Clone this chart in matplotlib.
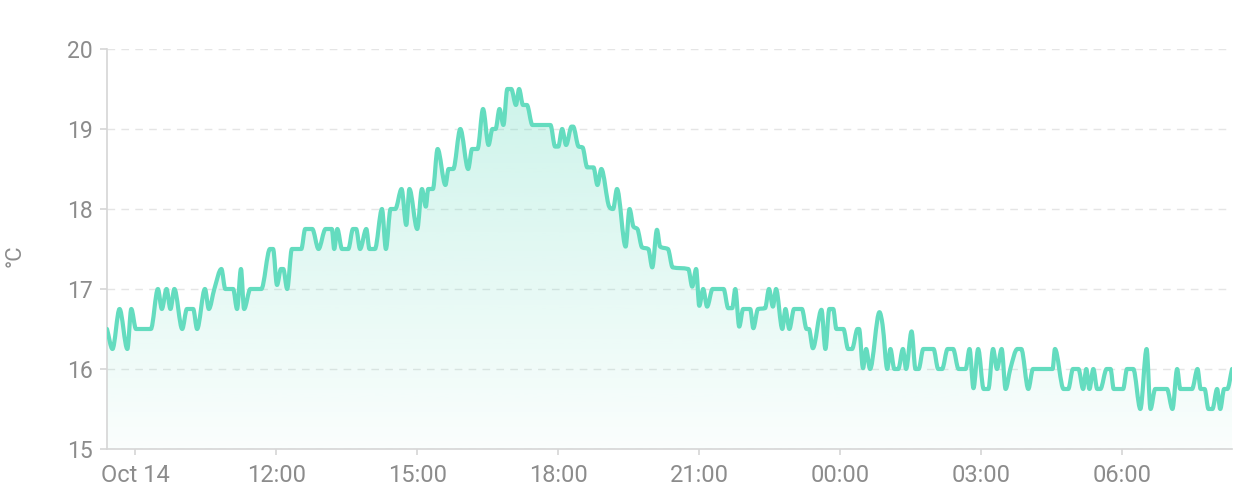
import matplotlib
matplotlib.use("Agg")
import matplotlib.pyplot as plt
import matplotlib.dates as mdates
from matplotlib.path import Path
from matplotlib.patches import PathPatch
import numpy as np
import pandas as pd

# minutes after 09:00 on Oct 14
minutes = [
    -36, -29, -20, -10, -5, 1, 20, 29, 34, 40, 45, 50, 60, 66, 74, 79, 89, 94,
    101, 110, 115, 125, 130, 135, 139, 147, 161, 172, 176, 181, 186, 189, 194,
    200, 212, 217, 226, 234, 243, 251, 254, 258, 264, 272, 278, 282, 287, 295,
    299, 306, 315, 320, 326, 332, 340, 346, 350, 360, 366, 371, 374, 380, 386,
    396, 400, 406, 415, 425, 430, 437, 444, 451, 456, 460, 465, 470, 475, 480,
    486, 490, 495, 500, 507, 530, 536, 540, 545, 550, 557, 559, 566, 571, 577,
    585, 590, 595, 605, 610, 615, 626, 631, 636, 641, 647, 655, 660, 666, 670,
    680, 686, 706, 711, 716, 720, 725, 730, 737, 751, 757, 762, 766, 771, 776,
    785, 789, 795, 804, 809, 814, 818, 826, 830, 835, 841, 851, 857, 860, 865,
    876, 881, 886, 891, 895, 904, 910, 915, 922, 924, 929, 933, 938, 950, 954,
    960, 964, 969, 974, 980, 984, 991, 996, 1000, 1006, 1019, 1025, 1030, 1037,
    1044, 1051, 1060, 1065, 1070, 1076, 1083, 1089, 1095, 1100, 1106, 1111,
    1117, 1126, 1131, 1140, 1146, 1171, 1174, 1185, 1191, 1197, 1204, 1210,
    1214, 1218, 1223, 1228, 1232, 1240, 1245, 1249, 1261, 1266, 1274, 1283,
    1291, 1296, 1302, 1317, 1324, 1330, 1334, 1349, 1356, 1360, 1365, 1370,
    1375, 1381, 1385, 1390, 1394, 1400,
]
temps = [
    16.5, 16.25, 16.75, 16.25, 16.75, 16.5, 16.5, 17.0, 16.75, 17.0, 16.75, 17.0,
    16.5, 16.75, 16.75, 16.5, 17.0, 16.75, 17.0, 17.25, 17.0, 17.0, 16.75, 17.25,
    16.75, 17.0, 17.0, 17.5, 17.5, 17.05, 17.25, 17.25, 17.0, 17.5, 17.5, 17.75,
    17.75, 17.5, 17.75, 17.75, 17.5, 17.75, 17.5, 17.5, 17.75, 17.75, 17.5, 17.75,
    17.5, 17.5, 18.0, 17.5, 18.0, 18.0, 18.25, 17.8, 18.25, 17.75, 18.25, 18.03,
    18.25, 18.25, 18.75, 18.3, 18.5, 18.5, 19.0, 18.5, 18.75, 18.75, 19.25, 18.8,
    19.0, 19.0, 19.25, 19.05, 19.5, 19.5, 19.3, 19.5, 19.3, 19.3, 19.05, 19.05,
    18.78, 18.78, 19.0, 18.8, 19.03, 19.03, 18.78, 18.77, 18.52, 18.52, 18.3,
    18.5, 18.03, 18.0, 18.25, 17.53, 18.0, 17.78, 17.75, 17.52, 17.5, 17.27,
    17.74, 17.53, 17.5, 17.27, 17.25, 17.03, 17.25, 16.79, 17.0, 16.78, 17.0,
    17.0, 16.76, 16.76, 17.0, 16.53, 16.75, 16.75, 16.51, 16.75, 16.76, 17.0,
    16.78, 17.0, 16.5, 16.75, 16.5, 16.75, 16.75, 16.5, 16.5, 16.26, 16.74,
    16.25, 16.75, 16.75, 16.5, 16.5, 16.25, 16.25, 16.5, 16.5, 16.01, 16.25,
    16.0, 16.71, 16.55, 16.0, 16.25, 16.0, 16.0, 16.25, 16.0, 16.47, 16.0, 16.0,
    16.25, 16.25, 16.0, 16.0, 16.25, 16.25, 16.0, 16.0, 16.25, 15.76, 16.25,
    15.75, 15.75, 16.25, 16.0, 16.25, 15.75, 16.0, 16.25, 16.25, 15.75, 16.0,
    16.0, 16.25, 15.75, 15.75, 16.0, 16.0, 15.75, 16.0, 15.75, 16.0, 15.75,
    15.75, 16.0, 16.0, 15.75, 15.75, 16.0, 16.0, 15.5, 16.25, 15.5, 15.75,
    15.75, 15.5, 16.0, 15.75, 15.75, 16.0, 15.75, 15.75, 15.5, 15.5, 15.75,
    15.5, 15.75, 15.75, 16.0,
]

start = pd.Timestamp("2023-10-14 09:00")
x_range_min = [-36, 1400]
y_ticks = [15, 16, 17, 18, 19, 20]
x_tick_hours = [0, 3, 6, 9, 12, 15, 18, 21]
x_tick_labels = ["Oct 14", "12:00", "15:00", "18:00", "21:00", "00:00", "03:00", "06:00"]

LINE = "#64dcbf"
GRID = "#e5e5e5"
AXIS = "#d6d6d6"
TEXT = "#8c8c8c"

plt.rcParams["font.family"] = ["Roboto", "DejaVu Sans"]


def monotone_path(x, y):
    # monotone cubic (Fritsch-Carlson) drawn as bezier segments
    x = np.asarray(x, float)
    y = np.asarray(y, float)
    dx = np.diff(x)
    d = np.diff(y) / dx
    m = np.zeros_like(y)
    m[0], m[-1] = d[0], d[-1]
    for i in range(1, len(y) - 1):
        if d[i - 1] * d[i] <= 0:
            m[i] = 0
        else:
            m[i] = (d[i - 1] + d[i]) / 2
    for i in range(len(d)):
        if d[i] == 0:
            m[i] = m[i + 1] = 0
            continue
        a, b = m[i] / d[i], m[i + 1] / d[i]
        s = a * a + b * b
        if s > 9:
            t = 3 / np.sqrt(s)
            m[i] = t * a * d[i]
            m[i + 1] = t * b * d[i]
    verts = [(x[0], y[0])]
    codes = [Path.MOVETO]
    for i in range(len(d)):
        h = dx[i] / 3
        verts += [(x[i] + h, y[i] + m[i] * h),
                  (x[i + 1] - h, y[i + 1] - m[i + 1] * h),
                  (x[i + 1], y[i + 1])]
        codes += [Path.CURVE4] * 3
    return verts, codes


times = start + pd.to_timedelta(minutes, unit="m")
xs = mdates.date2num(times.to_pydatetime())
xlim = mdates.date2num([(start + pd.Timedelta(minutes=m)).to_pydatetime() for m in x_range_min])
tick_pos = mdates.date2num([(start + pd.Timedelta(hours=h)).to_pydatetime() for h in x_tick_hours])

fig = plt.figure(figsize=(12.5, 5.01), dpi=100)
ax = fig.add_axes([0.0856, 0.1038, 0.9, 0.7984])

ax.set_xlim(*xlim)
ax.set_ylim(15, 20)

verts, codes = monotone_path(xs, temps)
line_path = Path(verts, codes)
fill_path = Path(verts + [(xs[-1], 15), (xs[0], 15), (xs[0], temps[0])],
                 codes + [Path.LINETO, Path.LINETO, Path.CLOSEPOLY])

# gradient fill under the line
grad = np.linspace(0, 1, 256).reshape(-1, 1)
rgba = np.zeros((256, 1, 4))
rgba[..., :3] = matplotlib.colors.to_rgb(LINE)
rgba[..., 3] = 0.03 + 0.32 * grad
img = ax.imshow(rgba, extent=[xlim[0], xlim[1], 15, 20], origin="lower",
                aspect="auto", zorder=1)
img.set_clip_path(fill_path, transform=ax.transData)

ax.add_patch(PathPatch(line_path, facecolor="none", edgecolor=LINE, lw=3,
                       joinstyle="round", capstyle="round", zorder=3))

ax.set_yticks(y_ticks)
ax.set_xticks(tick_pos)
ax.set_xticklabels(x_tick_labels)
ax.grid(axis="y", color=GRID, lw=1, linestyle=(0, (5.5, 4.5)), zorder=0)
ax.set_axisbelow(True)

for s in ["top", "right"]:
    ax.spines[s].set_visible(False)
for s in ["left", "bottom"]:
    ax.spines[s].set_color(AXIS)
    ax.spines[s].set_linewidth(1.2)

ax.tick_params(axis="y", length=5, width=1.2, color=AXIS, pad=5,
               labelsize=16.5, labelcolor=TEXT)
ax.tick_params(axis="x", length=4.5, width=1.2, color=AXIS, pad=6,
               labelsize=17, labelcolor=TEXT)

fig.text(0.012, 0.49, "°C", rotation=90, color=TEXT, fontsize=16,
         ha="center", va="center")

fig.savefig("out.png", dpi=100, facecolor="white")
